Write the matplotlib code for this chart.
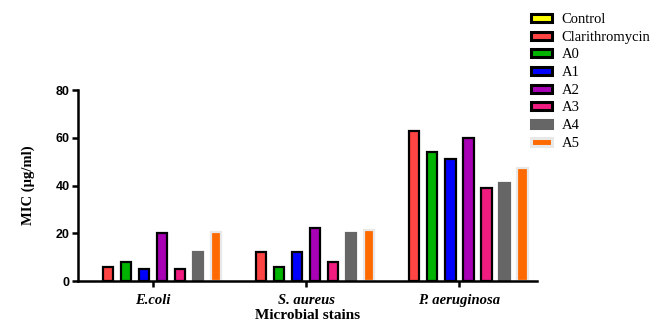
import numpy as np
import matplotlib.pyplot as plt
from matplotlib.patches import Patch

strains = ['E.coli', 'S. aureus', 'P. aeruginosa']
series = ['Control', 'Clarithromycin', 'A0', 'A1', 'A2', 'A3', 'A4', 'A5']
control = [0, 0, 0]
clarithromycin = [6, 12, 63]
a0 = [8, 6, 54]
a1 = [5, 12, 51]
a2 = [20, 22, 60]
a3 = [5, 8, 39]
a4 = [12, 20, 41]
a5 = [20.5, 21.5, 47.5]
values = [control, clarithromycin, a0, a1, a2, a3, a4, a5]

colors = ['#ffff00', '#ff4444', '#00b400', '#0000ff', '#a800b4', '#f01c80', '#666666', '#ff6a00']
edges = ['black'] * 6 + ['#666666', '#e8e8e8']

fig = plt.figure(figsize=(6.6, 3.21), dpi=100)
ax = fig.add_axes([0.118, 0.1246, 0.696, 0.595])

x = np.arange(len(strains))
step = 0.1176
width = 0.07
for i, (name, vals) in enumerate(zip(series, values)):
    pos = x + (i - 3.5) * step
    if max(vals) > 0:
        ax.bar(pos, vals, width, color=colors[i], edgecolor=edges[i], linewidth=1.6)

ax.set_xlim(-0.49, 2.51)
ax.set_ylim(0, 80)
ax.set_yticks([0, 20, 40, 60, 80])
ax.set_xticks(x)
ax.set_xticklabels(strains, fontfamily='Liberation Serif', fontstyle='italic',
                   fontweight='bold', fontsize=10.5)
for t in ax.get_yticklabels():
    t.set_fontfamily('Liberation Sans')
    t.set_fontweight('bold')
    t.set_fontsize(9)
ax.tick_params(axis='both', width=1.8, length=4, direction='out')
ax.tick_params(axis='y', pad=2)
ax.tick_params(axis='x', pad=5)
for s in ['top', 'right']:
    ax.spines[s].set_visible(False)
for s in ['left', 'bottom']:
    ax.spines[s].set_linewidth(1.8)

ax.set_ylabel('MIC (µg/ml)', fontfamily='Liberation Serif', fontweight='bold', fontsize=10.5, labelpad=15)
ax.set_xlabel('Microbial stains', fontfamily='Liberation Serif', fontweight='bold', fontsize=11, labelpad=2)

handles = [Patch(facecolor=c, edgecolor=e, linewidth=2.2) for c, e in zip(colors, edges)]
fig.legend(handles, series, loc='upper left', bbox_to_anchor=(0.785, 1.0), frameon=False,
           prop={'family': 'Liberation Serif', 'size': 10.5}, handlelength=1.4, handleheight=0.45,
           labelspacing=0.32, handletextpad=0.7)

fig.savefig('out.png', dpi=100)
